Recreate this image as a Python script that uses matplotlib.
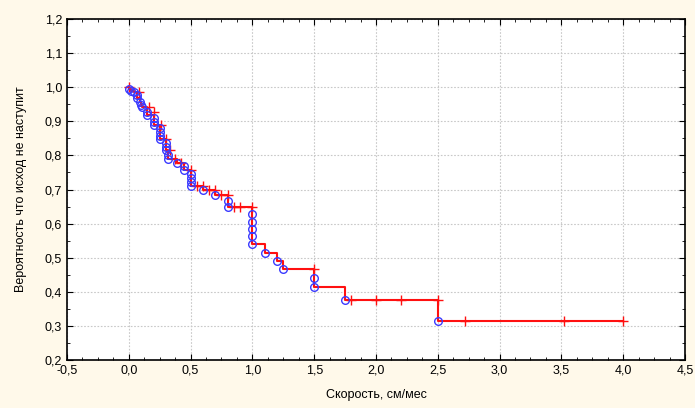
import matplotlib
matplotlib.use("Agg")
import matplotlib.pyplot as plt
from matplotlib.ticker import MultipleLocator, AutoMinorLocator, FuncFormatter

plt.rcParams['font.family'] = ['Liberation Sans', 'DejaVu Sans']

# Моменты исходов (полные наблюдения) и оценка выживаемости после них
event_t = [0.00, 0.02, 0.04, 0.07, 0.07, 0.09, 0.10, 0.11, 0.15, 0.15,
           0.20, 0.20, 0.20, 0.25, 0.25, 0.25, 0.25, 0.30, 0.30, 0.30,
           0.32, 0.32, 0.39, 0.45, 0.45, 0.50, 0.50, 0.50, 0.50, 0.60,
           0.70, 0.80, 0.80, 1.00, 1.00, 1.00, 1.00, 1.00, 1.10, 1.20,
           1.25, 1.50, 1.50, 1.75, 2.50]
event_s = [0.996, 0.990, 0.985, 0.978, 0.969, 0.958, 0.949, 0.941, 0.928, 0.918,
           0.909, 0.899, 0.889, 0.879, 0.869, 0.858, 0.847, 0.837, 0.826, 0.815,
           0.800, 0.789, 0.778, 0.768, 0.757, 0.745, 0.733, 0.722, 0.711, 0.698,
           0.683, 0.665, 0.650, 0.628, 0.606, 0.585, 0.563, 0.541, 0.514, 0.491,
           0.466, 0.440, 0.415, 0.375, 0.313]

# Цензурированные наблюдения
cens_t = [0.00, 0.08, 0.165, 0.20, 0.26, 0.30, 0.33, 0.37, 0.42, 0.50,
          0.55, 0.60, 0.65, 0.70, 0.75, 0.80, 0.85, 0.90, 1.00, 1.50,
          1.80, 2.00, 2.20, 2.50, 2.72, 3.52, 4.00]
cens_s = [1.000, 0.985, 0.941, 0.928, 0.889, 0.847, 0.815, 0.789, 0.778, 0.757,
          0.711, 0.711, 0.698, 0.698, 0.683, 0.683, 0.650, 0.650, 0.650, 0.466,
          0.375, 0.375, 0.375, 0.375, 0.313, 0.313, 0.313]

bg = '#fff9ea'
fig = plt.figure(figsize=(6.95, 4.08), dpi=100, facecolor=bg)
ax = fig.add_axes([0.0964, 0.1176, 0.8892, 0.8358])
ax.set_facecolor('white')

# Ступенчатая кривая Каплана-Мейера
line_t = [0.0] + event_t + [max(cens_t)]
line_s = [1.0] + event_s + [event_s[-1]]
ax.plot(line_t, line_s, drawstyle='steps-post', color='#ff1010', lw=1.5, zorder=2)

ax.plot(cens_t, cens_s, linestyle='none', marker='+', color='#ff1010',
        markersize=7, markeredgewidth=1.0, zorder=3)
ax.plot(event_t, event_s, linestyle='none', marker='o', markerfacecolor='none',
        markeredgecolor='#3a3aff', markersize=5.5, markeredgewidth=1.0, zorder=4)

ax.set_xlim(-0.5, 4.5)
ax.set_ylim(0.2, 1.2)
ax.xaxis.set_major_locator(MultipleLocator(0.5))
ax.yaxis.set_major_locator(MultipleLocator(0.1))
ax.xaxis.set_minor_locator(AutoMinorLocator(4))
ax.yaxis.set_minor_locator(AutoMinorLocator(2))
comma = FuncFormatter(lambda v, p: ('%.1f' % v).replace('.', ','))
ax.xaxis.set_major_formatter(comma)
ax.yaxis.set_major_formatter(comma)

ax.tick_params(which='both', direction='in', top=True, right=True, labelsize=9)
ax.tick_params(which='major', length=4)
ax.tick_params(which='minor', length=2)
ax.grid(True, which='major', color='#c8c8c8', linestyle=(0, (1.5, 1.5)), lw=0.8)
for s in ax.spines.values():
    s.set_linewidth(1.2)

ax.set_xlabel('Скорость, см/мес', fontsize=9, labelpad=9)
ax.set_ylabel('Вероятность что исход не наступит', fontsize=9, labelpad=13)

fig.savefig('out.png', dpi=100, facecolor=bg)
